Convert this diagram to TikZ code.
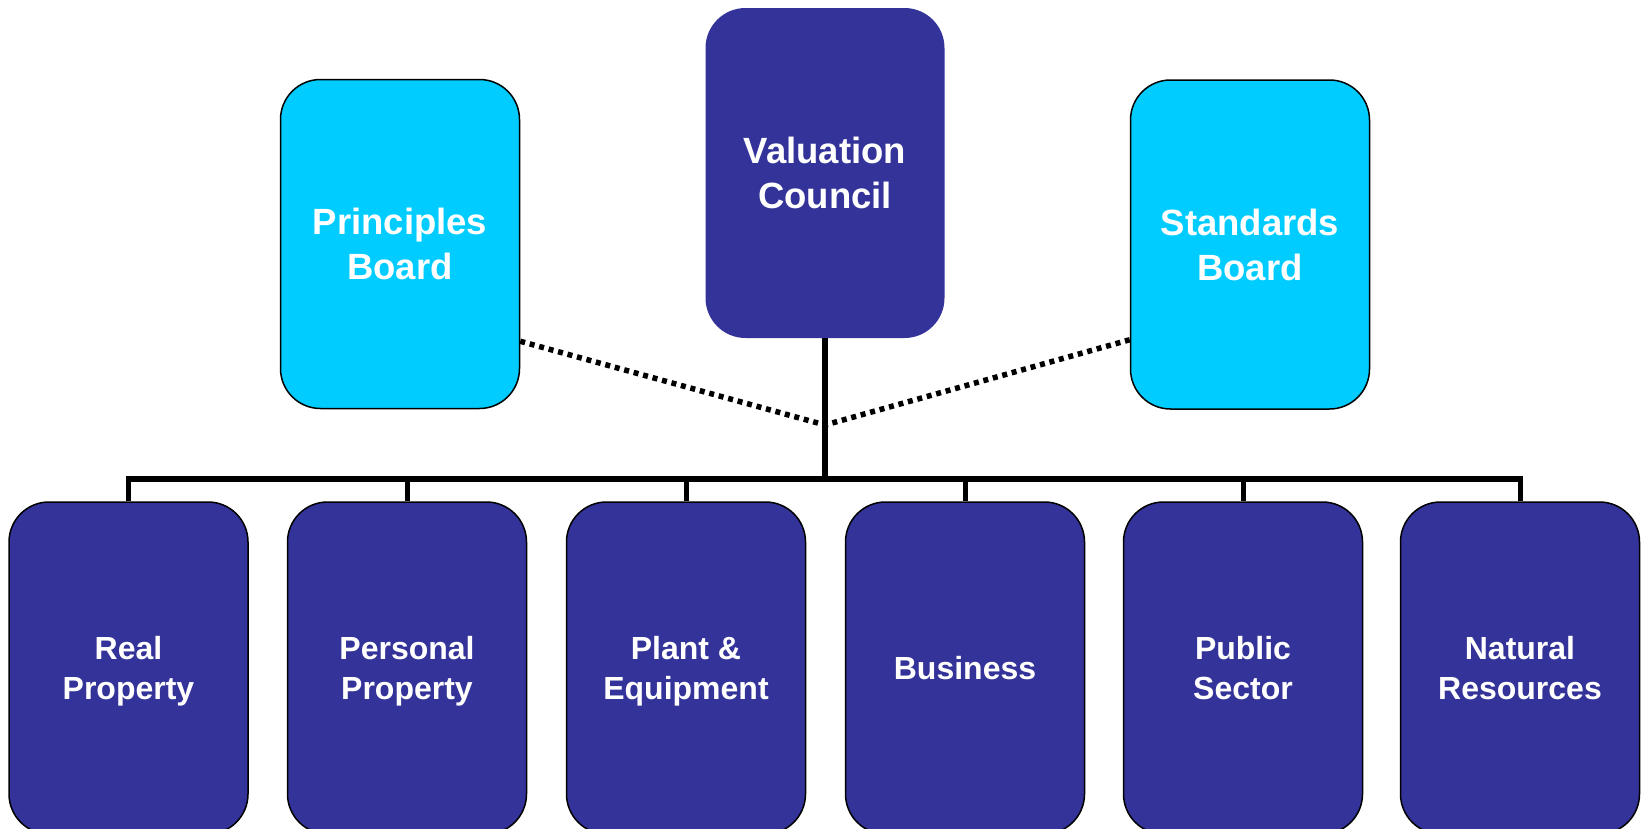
\documentclass[tikz,border=0pt]{standalone}
\usepackage{fontspec}
\setmainfont{Liberation Sans}
\usetikzlibrary{calc}
\definecolor{navyfill}{RGB}{51,51,153}
\definecolor{cyanfill}{RGB}{0,204,255}
\begin{document}
\begin{tikzpicture}[x=1pt,y=-1pt,
  box/.style={rounded corners=40pt, inner sep=0pt, align=center, text=white,
    text depth=0pt, font=\bfseries},
  topbox/.style={box, minimum width=239pt, minimum height=329pt,
    font=\bfseries\fontsize{36.5}{45}\selectfont},
  council/.style={topbox, fill=navyfill, minimum height=330pt},
  board/.style={topbox, fill=cyanfill, draw=black, line width=1.5pt},
  unit/.style={box, fill=navyfill, draw=black, line width=1.5pt,
    minimum width=239pt, minimum height=332pt,
    font=\bfseries\fontsize{32}{40.5}\selectfont},
  tree/.style={line width=5.5pt},
  drop/.style={line width=5pt},
  liaison/.style={line width=5.5pt, dash pattern=on 5pt off 4.8pt}]
\clip (0,0) rectangle (1641,828);

% governing bodies
\node[council] (vc) at (825,173) {Valuation\\Council};
\node[board] (pb) at (400,244) {Principles\\Board};
\node[board] (sb) at (1250,244.5) {Standards\\Board};

% practice areas
\node[unit] (re) at (128.5,668) {Real\\Property};
\node[unit] (pp) at (407,668) {Personal\\Property};
\node[unit] (pe) at (686,668) {Plant \&\\Equipment};
\node[unit] (bu) at (965,668) {Business};
\node[unit] (ps) at (1243,668) {Public\\Sector};
\node[unit] (nr) at (1520,668) {Natural\\Resources};

% junctions of the tree
\coordinate (j) at (825,425);
\coordinate (bar) at (825,479);

% trunk and horizontal bar
\draw[line width=6pt] (vc.south) -- (bar);
\draw[tree, line cap=rect] (re.north |- bar) -- (nr.north |- bar);
\foreach \u in {re,pp,pe,bu,ps,nr}
  \draw[drop] (\u.north |- bar) -- (\u.north);

% dotted liaison lines from the boards
\draw[liaison] ($(pb.south east)+(0,-68)$) -- (j);
\draw[liaison] ($(sb.south west)+(0,-70)$) -- (j);
\end{tikzpicture}
\end{document}
